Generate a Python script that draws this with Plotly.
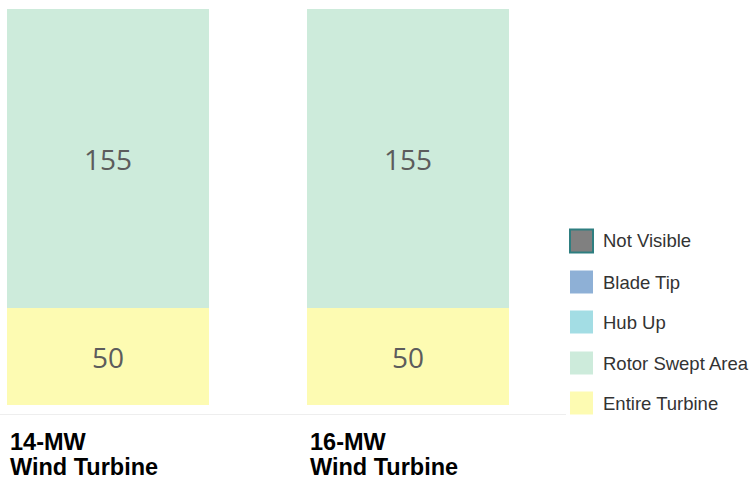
import plotly.graph_objects as go

categories = ["14-MW", "16-MW"]
category_sub = ["Wind Turbine", "Wind Turbine"]

series_names = ["Entire Turbine", "Rotor Swept Area", "Hub Up", "Blade Tip", "Not Visible"]
entire_turbine = [50, 50]
rotor_swept_area = [155, 155]
hub_up = [0, 0]
blade_tip = [0, 0]
not_visible = [0, 0]
series_values = [entire_turbine, rotor_swept_area, hub_up, blade_tip, not_visible]

colors = ["#fdfbb2", "#cdebdb", "#a3dde4", "#8eb0d6", "#808080"]
legend_line_colors = [None, None, None, None, "#2e7e80"]

fig = go.Figure()
x_idx = list(range(len(categories)))
for name, vals, col in zip(series_names, series_values, colors):
    fig.add_trace(go.Bar(
        x=x_idx, y=vals, name=name,
        marker=dict(color=col, line=dict(width=0)),
        text=[str(v) if v else "" for v in vals],
        textposition="inside", insidetextanchor="middle",
        textfont=dict(family="Open Sans", size=28, color="#5c5c5c"),
        width=0.675, showlegend=False, hoverinfo="skip",
    ))

# category labels (left aligned under each bar)
for i, (c1, c2) in enumerate(zip(categories, category_sub)):
    fig.add_annotation(x=i - 0.333, y=-0.032, xref="x", yref="paper",
                       text="<b>%s</b>" % c1, showarrow=False, xanchor="left", yanchor="top",
                       font=dict(family="Arial", size=23.5, color="#000000"))
    fig.add_annotation(x=i - 0.333, y=-0.091, xref="x", yref="paper",
                       text="<b>%s</b>" % c2, showarrow=False, xanchor="left", yanchor="top",
                       font=dict(family="Arial", size=23.5, color="#000000"))

# manual legend (top to bottom: reversed order of series)
legend_centers = [241, 282, 322, 363, 403]
for k, idx in enumerate(reversed(range(len(series_names)))):
    cy = legend_centers[k]
    x0, x1 = 570, 593
    y0, y1 = cy - 11.5, cy + 11.5
    lc = legend_line_colors[idx]
    fig.add_shape(type="rect", xref="paper", yref="paper",
                  x0=x0 / 566.0, x1=x1 / 566.0,
                  y0=(414 - y1) / 414.0, y1=(414 - y0) / 414.0,
                  fillcolor=colors[idx],
                  line=dict(color=lc if lc else colors[idx], width=2 if lc else 0))
    fig.add_annotation(x=601 / 566.0, y=(414 - cy) / 414.0, xref="paper", yref="paper",
                       text=series_names[idx], showarrow=False, xanchor="left", yanchor="middle",
                       font=dict(family="Arial", size=18.5, color="#333333"))

fig.update_layout(
    width=751, height=487,
    margin=dict(l=0, r=185, t=0, b=73),
    barmode="stack",
    plot_bgcolor="white", paper_bgcolor="white",
    xaxis=dict(range=[-0.36, 1.527], showticklabels=False, showgrid=False,
               zeroline=False, showline=True, linecolor="#eeeeee", linewidth=1, ticks=""),
    yaxis=dict(range=[-4.8, 209.9], showticklabels=False, showgrid=False,
               zeroline=False, showline=False, ticks=""),
    showlegend=False,
)

fig.write_html("out.html", config={"displayModeBar": False},
               post_script="document.body.style.margin='0';document.body.style.padding='0';")
